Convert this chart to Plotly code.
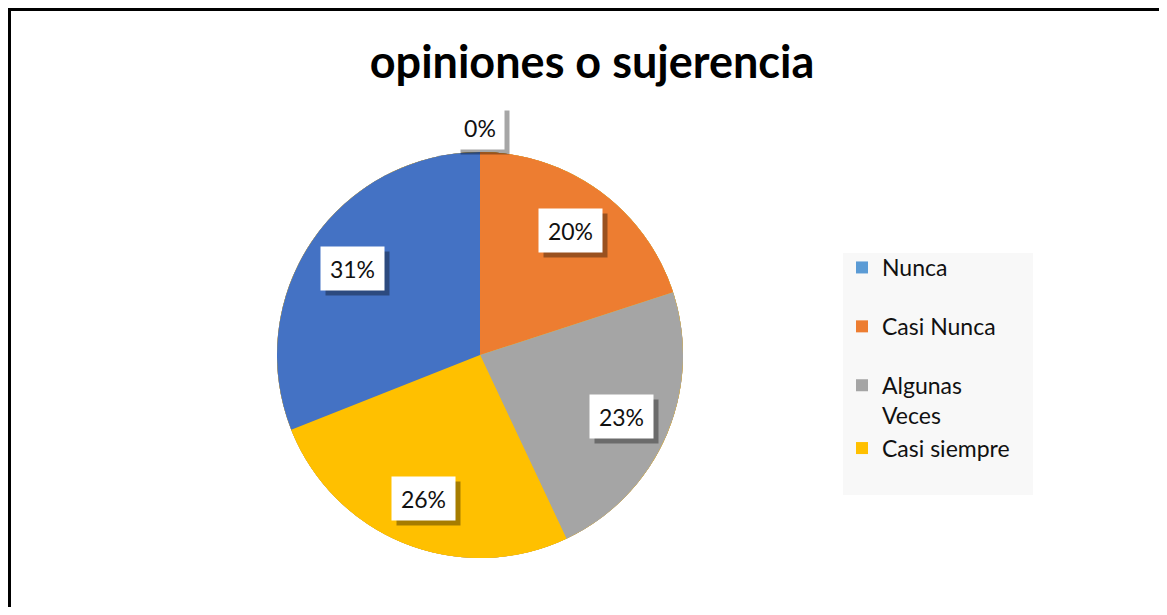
import math

import plotly.graph_objects as go

# data
labels = ["Nunca", "Casi Nunca", "Algunas Veces", "Casi siempre", "Siempre"]
values = [0, 20, 23, 26, 31]
colors = ["#5B9BD5", "#ED7D31", "#A5A5A5", "#FFC000", "#4472C4"]
legend_labels = ["Nunca", "Casi Nunca", "Algunas<br>Veces", "Casi siempre"]
legend_groups = ["g1", "g2", "g3", "g3"]
title_text = "opiniones o sujerencia"

# page has an 8px body margin, so the figure is a bit smaller than the window
OFF = 8
W, H = 1167 - 2 * OFF, 615 - 2 * OFF
CX, CY, R = 480 - OFF, 355 - OFF, 203  # pie centre / radius in figure px
FONT = "Lato, Carlito, Calibri, sans-serif"

dom_x = [(CX - R) / W, (CX + R) / W]
dom_y = [(H - CY - R) / H, (H - CY + R) / H]

fig = go.Figure()

# legend-only pies, hidden under the main pie (the legend shows just four entries)
for text, col, grp in zip(legend_labels, colors[:4], legend_groups):
    fig.add_trace(
        go.Pie(
            labels=[text],
            values=[1],
            marker=dict(colors=[col]),
            domain=dict(x=dom_x, y=dom_y),
            textinfo="none",
            hoverinfo="skip",
            legendgroup=grp,
            showlegend=True,
        )
    )

fig.add_trace(
    go.Pie(
        labels=labels,
        values=values,
        marker=dict(colors=colors, line=dict(width=0)),
        domain=dict(x=dom_x, y=dom_y),
        sort=False,
        direction="clockwise",
        rotation=0,
        textinfo="none",
        showlegend=False,
    )
)

# data labels: white boxes with a drop shadow
total = sum(values)
cum = 0
annotations = []
for v in values:
    mid = (cum + v / 2) / total * 2 * math.pi
    cum += v
    rf = 0.76 if v > 0 else 1.12
    px = CX + rf * R * math.sin(mid)
    py = CY - rf * R * math.cos(mid)
    txt = f"{round(v / total * 100)}%"
    box_w = 15 * len(txt) + 2
    common = dict(
        x=px / W, y=1 - py / H, xref="paper", yref="paper",
        xanchor="center", yanchor="middle", showarrow=False,
        borderpad=8, width=box_w, height=27,
    )
    # shadow box (no text)
    annotations.append(dict(common, text="&nbsp;", bgcolor="rgba(0,0,0,0.35)",
                            font=dict(family=FONT, size=23), xshift=5, yshift=-5))
    annotations.append(dict(common, text=txt, bgcolor="white",
                            font=dict(family=FONT, size=23, color="#111")))

shapes = [
    # legend background
    dict(type="rect", xref="paper", yref="paper", x0=(843 - OFF) / W, x1=(1033 - OFF) / W,
         y0=1 - (495 - OFF) / H, y1=1 - (253 - OFF) / H, fillcolor="#f8f8f8",
         line=dict(width=0), layer="below"),
    # frame
    dict(type="line", xref="paper", yref="paper", x0=0, x1=1, y0=1 - 1.5 / H, y1=1 - 1.5 / H,
         line=dict(color="black", width=3)),
    dict(type="line", xref="paper", yref="paper", x0=1.5 / W, x1=1.5 / W, y0=0, y1=1,
         line=dict(color="black", width=3)),
]

fig.update_layout(
    width=W,
    height=H,
    margin=dict(l=0, r=0, t=0, b=0),
    paper_bgcolor="white",
    plot_bgcolor="white",
    title=dict(text=f"<b>{title_text}</b>", x=(592 - OFF) / W, xanchor="center",
               y=1 - (62 - OFF) / H, yanchor="middle",
               font=dict(family=FONT, size=45, color="black")),
    legend=dict(x=(842 - OFF) / W, y=1 - (246 - OFF) / H, xanchor="left", yanchor="top",
                bgcolor="rgba(0,0,0,0)", traceorder="grouped", tracegroupgap=26,
                valign="top", font=dict(family=FONT, size=23, color="#111")),
    annotations=annotations,
    shapes=shapes,
)

fig.write_html("out.html")
